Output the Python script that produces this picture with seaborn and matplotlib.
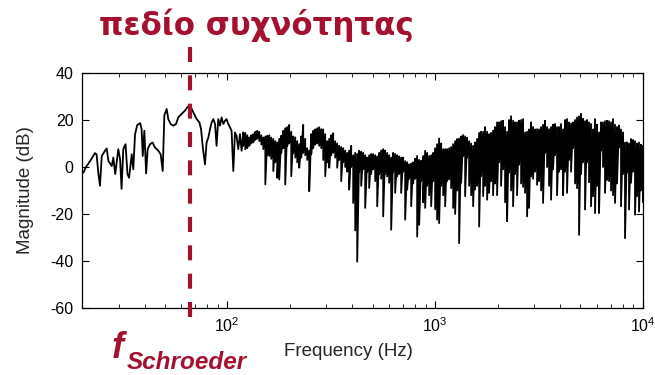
import numpy as np
import pandas as pd
import seaborn as sns
import matplotlib.pyplot as plt

# measured response, sparse part below ~120 Hz (Hz, dB)
f_low = [20.3, 20.9, 21.9, 23.1, 23.5, 24.0, 24.4, 24.9, 25.8, 26.3, 26.8, 27.8, 28.3, 28.9,
         29.9, 30.5, 31.0, 31.6, 32.4, 33.1, 33.7, 34.7, 35.3, 36.0, 36.9, 38.1, 38.7, 39.2,
         39.9, 40.7, 41.4, 42.5, 43.7, 44.9, 46.6, 47.8, 48.9,
         49.8, 51.1, 52.0, 53.4, 55.0, 56.7, 58.1, 60.3, 62.6, 64.2, 65.7, 67.4, 69.2, 71.2,
         73.4, 74.8, 76.1, 77.3, 78.1, 79.5, 81.1, 82.6, 84.1, 85.7, 87.3, 88.8, 90.5, 92.2,
         93.9, 95.7, 97.5, 99.2, 101.1, 103.0, 104.9, 106.9, 108.9, 110.8, 112.9, 115.1, 117.2]
db_low = [-2.4, 0, 2.6, 5.9, 5.4, -3, -8, 4.7, 6.9, 7.9, 2.6, 0.4, 4, -3,
          7.6, 3.3, -9.3, 7.6, 9.7, -3, -4.6, 5.4, -1, 14, 17.9, 18.7, 16.1, 4.7,
          15.4, -2.7, 7.6, 9.7, 10.4, 8.3, 6.9, 5.4, -1.7,
          22, 24.7, 20.4, 18.3, 17.6, 18.3, 21.1, 22.6, 24, 25.4, 26.1, 24.7, 22.6, 20.4,
          19, 16.1, 9, 4, 1.1, 10.4, 12.6, 16.1, 19, 20.4, 18.3, 9, 20.4, 17.6,
          21.1, 18.3, 19.7, 20.4, 18.3, 16.9, 15.4, -1.7, 14.7, 13.3, 7.6, 14, 6.9]

# dense part: for every frequency the top and bottom of the trace
f_dense = [119.4, 122.1, 124.8, 127.6, 130.4,
           133.4, 136.4, 139.4, 142.6, 145.8, 149.0, 152.4, 155.8, 159.3, 162.8, 166.5, 170.2, 174.0,
           177.8, 181.8, 185.9, 190.0, 194.3, 198.6, 203.1, 207.6, 212.3, 217.0, 221.9, 226.8, 231.9,
           237.1, 242.4, 247.8, 253.4, 259.1, 264.9, 270.8, 276.9, 283.1, 289.4, 295.9, 302.5, 309.3,
           316.2, 323.3, 330.5, 337.9, 345.5, 353.2, 361.1, 369.2, 377.5, 385.9, 394.6, 403.4, 412.5,
           421.7, 431.1, 440.8, 450.7, 460.7, 471.1, 481.6, 492.4, 503.4, 514.7, 526.2, 538.0, 550.1,
           562.3, 574.9, 587.8, 600.9, 614.4, 628.2, 642.2, 656.6, 671.3, 686.3, 701.7, 717.4, 733.5,
           749.9, 766.7, 783.9, 801.4, 819.3, 837.7, 856.5, 875.6, 895.2, 915.3, 935.8, 956.7, 978.2,
           1000, 1022, 1045, 1069, 1093, 1117, 1142, 1168, 1194, 1221, 1248, 1276, 1304,
           1334, 1364, 1394, 1425, 1457, 1490, 1523, 1557, 1592, 1628, 1664, 1702, 1740,
           1778, 1818, 1859, 1900, 1943, 1986, 2031, 2076, 2123, 2170, 2219, 2268, 2319,
           2371, 2424, 2478, 2534, 2591, 2649, 2708, 2769, 2830, 2894, 2959, 3025, 3093,
           3162, 3233, 3305, 3379, 3455, 3532, 3611, 3692, 3775, 3859, 3946, 4034, 4125,
           4217, 4311, 4408, 4507, 4608, 4711, 4816, 4924, 5034, 5147, 5262, 5380, 5500,
           5623, 5749, 5878, 6010, 6144, 6282, 6422, 6566, 6713, 6863, 7017, 7174, 7335,
           7499, 7667, 7839, 8014, 8193, 8377, 8565, 8756, 8952, 9153, 9358, 9567, 9781,
           9990]
db_hi = [14.7, 14.5, 13.5, 12.6, 13.5, 14, 15, 15.4, 15, 13.5, 12.6, 13, 13.3, 13.5, 12.5, 11.9,
         11, 10.4, 12, 13.3, 15.4, 16.5, 17, 17.9, 15, 13, 12.6, 11, 9.7, 13, 17.9, 12, 8, 7, 14,
         15.4, 16, 16.5, 16.9, 16.1, 16,
         14, 11, 12, 13.5, 14.4, 11, 10, 9, 8.5, 8, 7, 6, 7, 9, 5, 6, 5.5, 6.9, 6.5, 6,
         5, 4, 5, 5.5, 5.5, 5, 4.5, 6, 7, 7.6, 7, 6, 5, 4, 6, 5.5, 5, 4.5, 4, 4,
         2.5, 2, 1.1, 1.5, 2, 3.5, 4.7, 3, 2.6, 4.7, 6.9, 6, 4.7, 5, 6, 8, 9.7, 12.1, 10, 7.6,
         7.6, 7.6, 8, 8.5, 9.7, 11, 11.9, 12.1, 13, 13.6, 13, 12.5, 11, 10, 9, 10.5, 12, 14.5, 15, 15,
         17, 15, 14, 14.5, 15.5, 17, 19, 19, 19.5, 19.7, 17, 15, 20, 21.6, 19.7, 19, 19, 19.7, 20, 20.4,
         14.7, 15, 16, 19, 17, 16, 16.1, 16, 17, 18, 19.7, 17, 16.1, 17, 18, 18.3, 17, 17, 18.3, 16,
         20, 20.4, 19, 18.5, 19, 20, 21.1, 21.5, 22.6, 20.5, 19.5, 20, 19, 18.3, 16, 20.4, 18, 14.7, 19, 19,
         19.5, 19.7, 19.5, 19, 20.4, 18, 17, 17.6, 16, 14.7, 10.4, 10.5, 10, 11.9, 11.5, 11, 10, 10.4, 9.5, 9]
db_lo = [9, 7.6, 8, 9, 10, 10.5, 11.5, 12, 11, 9.5, 7.6, -7.4, 5, 4.7, 3.5, -1.7,
         2, -4.6, -5.3, 6, 8, -7.4, 9, 10, -3.9, 6, 4, 2, -0.3, 4, 6, 5, 3, -10.3, 5.4,
         8, 9.5, 10, 9, 8, 3,
         -3.9, 2, -0.3, 5, 6, 4, -0.3, 3, -6, 2, 0, -2, -9.6, 0, -15.3, -27, -40.3, -2, -8, -1,
         -17.4, -2, -8.9, -3, -1, -6, -16.7, -3, -5, -21, -3, -4, -6.7, -26.7, -2, -11, -4, -3, -11, -2,
         -22.4, -9.6, -5, -16.7, -7, -5, -29.6, -24.6, -6, -15, -17.4, -8, -12, -16.7, -6, -18, -22.4, -23.9, -8, -12,
         -16.7, -6, -5.3, -9, -17.4, -20, -10, -32.4, -6.7, 4.7, -12.4, 4, -8, -12, -16.7, -9.6, -8, -25.3, -3.9, -12.4,
         -8, -13.9, -11, -6, -12, -7, -12, 2, -8, -1, -15, -23.1, -2.4, -10, -16.7, -3, -12, 1, -7, -8.5,
         -11, -21, -17.4, -4, -5, -2, -7.6, -6, -10, -15.3, 6, 0, -8, -13.9, -1, 5, -12, -2, -1, -12,
         -2, -11, 3, -2, 8, -7, -9, -28.9, -3, 2, -18.1, 2, -6.5, -16.7, -12.4, -19.6, -8, -19.6, 7, 0,
         -11, -5.5, -6, -10, -12, -15.3, -7, 8.3, -16.7, -3, -30.3, -2.4, -18.1, -6.7, -2, -20.3, -12.4, -19, -10, -15]

f_schroeder = 66
y_ticks = [-60, -40, -20, 0, 20, 40]
red = '#a3112f'

# one trace: sparse points, then top/bottom pairs of the dense part
freq = np.concatenate([f_low, np.repeat(f_dense, 2)])
mag = np.concatenate([db_low, np.column_stack([db_hi, db_lo]).ravel()])
df = pd.DataFrame({'Frequency (Hz)': freq, 'Magnitude (dB)': mag})

sns.set_style('ticks')
plt.rcParams['font.family'] = ['Liberation Sans', 'DejaVu Sans']
plt.rcParams['axes.unicode_minus'] = False
plt.rcParams['mathtext.fontset'] = 'custom'
plt.rcParams['mathtext.rm'] = 'Liberation Sans'

fig = plt.figure(figsize=(6.55, 3.75), dpi=100)
ax = fig.add_axes([82 / 655, 1 - 308 / 375, 561 / 655, 235 / 375])

sns.lineplot(data=df, x='Frequency (Hz)', y='Magnitude (dB)', estimator=None, sort=False,
             color='black', lw=1.3, ax=ax)
ax.set_xscale('log')
ax.set_xlim(20, 10000)
ax.set_ylim(-60, 40)
ax.set_yticks(y_ticks)

for s in ax.spines.values():
    s.set_color('black')
    s.set_linewidth(0.9)
ax.tick_params(which='both', direction='in', top=True, right=True, colors='black',
               labelsize=11.5, pad=6)
ax.tick_params(which='major', length=5)
ax.tick_params(which='minor', length=3)

ax.set_xlabel('Frequency (Hz)', fontsize=13.5)
ax.xaxis.set_label_coords(0.475, -0.15)
ax.set_ylabel('Magnitude (dB)', fontsize=13.5)
ax.yaxis.set_label_coords(-0.086, 0.5)

ax.axvline(f_schroeder, ymin=-0.04, ymax=1.135, color=red, lw=3,
           ls=(0, (3.6, 3.2)), clip_on=False, zorder=5)

fig.text(256 / 655, 1 - 35 / 375, 'πεδίο συχνότητας', ha='center', va='baseline',
         fontsize=22.2, fontweight='bold', color=red, family='DejaVu Sans')
fig.text(112 / 655, 1 - 358 / 375, 'f', ha='left', va='baseline', fontsize=26,
         style='italic', fontweight='bold', color=red)
fig.text(127 / 655, 1 - 369 / 375, 'Schroeder', ha='left', va='baseline', fontsize=17.5,
         style='italic', fontweight='bold', color=red)

fig.savefig('out.png', dpi=100)
